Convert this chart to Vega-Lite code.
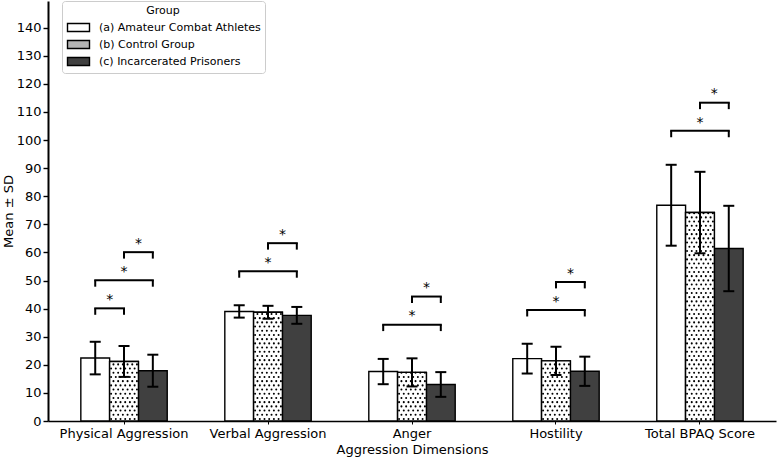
{
  "$schema": "https://vega.github.io/schema/vega-lite/v6.json",
  "width": 728,
  "height": 420,
  "autosize": {"type": "none"},
  "padding": {"left": 48, "top": 1, "right": 1, "bottom": 36},
  "background": "white",
  "config": {
    "font": "DejaVu Sans",
    "view": {"stroke": null},
    "axis": {
      "labelFont": "DejaVu Sans", "titleFont": "DejaVu Sans",
      "labelColor": "black", "titleColor": "black",
      "labelFontSize": 13, "titleFontSize": 13, "titleFontWeight": "normal",
      "domainColor": "black", "tickColor": "black", "grid": false
    },
    "axisY": {"domainWidth": 2, "tickWidth": 1.4, "tickSize": 5, "labelPadding": 2, "tickCount": 15, "titleX": -40, "titleBaseline": "middle"},
    "axisX": {"domainWidth": 1.3, "tickSize": 3, "tickWidth": 1, "labelPadding": 3, "titlePadding": 3, "labelAngle": 0}
  },
  "datasets": {
    "bars": [
      {"dim": "Physical Aggression", "group": "(a) Amateur Combat Athletes", "mean": 22.4, "sd": 5.8},
      {"dim": "Physical Aggression", "group": "(b) Control Group", "mean": 21.2, "sd": 5.5},
      {"dim": "Physical Aggression", "group": "(c) Incarcerated Prisoners", "mean": 17.9, "sd": 5.7},
      {"dim": "Verbal Aggression", "group": "(a) Amateur Combat Athletes", "mean": 39.0, "sd": 2.2},
      {"dim": "Verbal Aggression", "group": "(b) Control Group", "mean": 38.7, "sd": 2.3},
      {"dim": "Verbal Aggression", "group": "(c) Incarcerated Prisoners", "mean": 37.6, "sd": 3.0},
      {"dim": "Anger", "group": "(a) Amateur Combat Athletes", "mean": 17.6, "sd": 4.5},
      {"dim": "Anger", "group": "(b) Control Group", "mean": 17.3, "sd": 5.0},
      {"dim": "Anger", "group": "(c) Incarcerated Prisoners", "mean": 13.0, "sd": 4.4},
      {"dim": "Hostility", "group": "(a) Amateur Combat Athletes", "mean": 22.2, "sd": 5.3},
      {"dim": "Hostility", "group": "(b) Control Group", "mean": 21.4, "sd": 5.0},
      {"dim": "Hostility", "group": "(c) Incarcerated Prisoners", "mean": 17.7, "sd": 5.2},
      {"dim": "Total BPAQ Score", "group": "(a) Amateur Combat Athletes", "mean": 76.8, "sd": 14.4},
      {"dim": "Total BPAQ Score", "group": "(b) Control Group", "mean": 74.2, "sd": 14.5},
      {"dim": "Total BPAQ Score", "group": "(c) Incarcerated Prisoners", "mean": 61.4, "sd": 15.2}
    ],
    "brackets": [
      {"dim": "Physical Aggression", "pair": "ab", "y": 40.1},
      {"dim": "Physical Aggression", "pair": "ac", "y": 50.1},
      {"dim": "Physical Aggression", "pair": "bc", "y": 60.1},
      {"dim": "Verbal Aggression", "pair": "ac", "y": 53.3},
      {"dim": "Verbal Aggression", "pair": "bc", "y": 63.3},
      {"dim": "Anger", "pair": "ac", "y": 34.3},
      {"dim": "Anger", "pair": "bc", "y": 44.3},
      {"dim": "Hostility", "pair": "ac", "y": 39.5},
      {"dim": "Hostility", "pair": "bc", "y": 49.5},
      {"dim": "Total BPAQ Score", "pair": "ac", "y": 103.3},
      {"dim": "Total BPAQ Score", "pair": "bc", "y": 113.3}
    ]
  },
  "encoding": {
    "x": {
      "field": "dim", "type": "nominal",
      "sort": ["Physical Aggression", "Verbal Aggression", "Anger", "Hostility", "Total BPAQ Score"],
      "scale": {"paddingInner": 0.4, "paddingOuter": 0.228},
      "title": "Aggression Dimensions"
    }
  },
  "layer": [
    {
      "data": {"name": "bars"},
      "mark": {"type": "bar", "stroke": "black", "strokeWidth": 1.4, "opacity": 1},
      "encoding": {
        "xOffset": {"field": "group", "type": "nominal", "scale": {"domain": ["(a) Amateur Combat Athletes", "(b) Control Group", "(c) Incarcerated Prisoners"], "paddingInner": 0, "paddingOuter": 0}},
        "y": {"field": "mean", "type": "quantitative", "scale": {"domain": [0, 149.5], "nice": false}, "title": "Mean ± SD"},
        "fill": {
          "field": "group", "type": "nominal",
          "scale": {"domain": ["(a) Amateur Combat Athletes", "(b) Control Group", "(c) Incarcerated Prisoners"], "range": ["white", "#b4b4b4", "#404040"]},
          "legend": {
            "title": "Group", "orient": "none", "legendX": 14, "legendY": 0,
            "titleAnchor": "middle", "titleFontWeight": "normal", "titleFontSize": 11, "titleFont": "DejaVu Sans", "titleColor": "black", "titlePadding": 5,
            "labelFont": "DejaVu Sans", "labelFontSize": 11, "labelColor": "black", "labelOffset": 14, "labelLimit": 0,
            "symbolType": "M-2,-0.72H2V0.72H-2Z", "symbolSize": 121, "symbolStrokeColor": "black", "symbolStrokeWidth": 1.4, "symbolOffset": 6, "symbolOpacity": 1,
            "rowPadding": 2, "padding": 4, "strokeColor": "#cccccc", "fillColor": "white", "cornerRadius": 3
          }
        }
      }
    },
    {
      "data": {"name": "bars"},
      "transform": [{"filter": "datum.group === '(b) Control Group'"}],
      "mark": {"type": "bar", "fill": "white", "stroke": "black", "strokeWidth": 1.4, "opacity": 1},
      "encoding": {
        "xOffset": {"field": "group", "type": "nominal"},
        "y": {"field": "mean", "type": "quantitative", "title": "Mean ± SD"}
      }
    },
    {
      "data": {"name": "bars"},
      "transform": [{"filter": "datum.group === '(b) Control Group'"}, {"calculate": "0", "as": "base"}],
      "encoding": {"y": {"field": "base", "type": "quantitative", "title": "Mean ± SD"}, "y2": {"field": "mean"}},
      "layer": [
        {"mark": {"type": "rule", "color": "black", "strokeWidth": 2, "strokeCap": "round", "strokeDash": [0.1, 8.3], "strokeDashOffset": 6.4, "xOffset": -12.925}},
        {"mark": {"type": "rule", "color": "black", "strokeWidth": 2, "strokeCap": "round", "strokeDash": [0.1, 8.3], "strokeDashOffset": 2.2, "xOffset": -10.575}},
        {"mark": {"type": "rule", "color": "black", "strokeWidth": 2, "strokeCap": "round", "strokeDash": [0.1, 8.3], "strokeDashOffset": 6.4, "xOffset": -8.225}},
        {"mark": {"type": "rule", "color": "black", "strokeWidth": 2, "strokeCap": "round", "strokeDash": [0.1, 8.3], "strokeDashOffset": 2.2, "xOffset": -5.875}},
        {"mark": {"type": "rule", "color": "black", "strokeWidth": 2, "strokeCap": "round", "strokeDash": [0.1, 8.3], "strokeDashOffset": 6.4, "xOffset": -3.525}},
        {"mark": {"type": "rule", "color": "black", "strokeWidth": 2, "strokeCap": "round", "strokeDash": [0.1, 8.3], "strokeDashOffset": 2.2, "xOffset": -1.175}},
        {"mark": {"type": "rule", "color": "black", "strokeWidth": 2, "strokeCap": "round", "strokeDash": [0.1, 8.3], "strokeDashOffset": 6.4, "xOffset": 1.175}},
        {"mark": {"type": "rule", "color": "black", "strokeWidth": 2, "strokeCap": "round", "strokeDash": [0.1, 8.3], "strokeDashOffset": 2.2, "xOffset": 3.525}},
        {"mark": {"type": "rule", "color": "black", "strokeWidth": 2, "strokeCap": "round", "strokeDash": [0.1, 8.3], "strokeDashOffset": 6.4, "xOffset": 5.875}},
        {"mark": {"type": "rule", "color": "black", "strokeWidth": 2, "strokeCap": "round", "strokeDash": [0.1, 8.3], "strokeDashOffset": 2.2, "xOffset": 8.225}},
        {"mark": {"type": "rule", "color": "black", "strokeWidth": 2, "strokeCap": "round", "strokeDash": [0.1, 8.3], "strokeDashOffset": 6.4, "xOffset": 10.575}},
        {"mark": {"type": "rule", "color": "black", "strokeWidth": 2, "strokeCap": "round", "strokeDash": [0.1, 8.3], "strokeDashOffset": 2.2, "xOffset": 12.925}}
      ]
    },
    {
      "data": {"name": "bars"},
      "transform": [{"filter": "datum.group === '(a) Amateur Combat Athletes'"}, {"calculate": "datum.mean - datum.sd", "as": "lo"}, {"calculate": "datum.mean + datum.sd", "as": "hi"}],
      "layer": [
        {"mark": {"type": "rule", "color": "black", "strokeWidth": 2, "xOffset": -28.8}, "encoding": {"y": {"field": "lo", "type": "quantitative", "title": "Mean ± SD"}, "y2": {"field": "hi"}}},
        {"mark": {"type": "tick", "orient": "horizontal", "color": "black", "thickness": 2, "size": 11, "opacity": 1, "xOffset": -28.8}, "encoding": {"y": {"field": "lo", "type": "quantitative", "title": "Mean ± SD"}}},
        {"mark": {"type": "tick", "orient": "horizontal", "color": "black", "thickness": 2, "size": 11, "opacity": 1, "xOffset": -28.8}, "encoding": {"y": {"field": "hi", "type": "quantitative", "title": "Mean ± SD"}}}
      ]
    },
    {
      "data": {"name": "bars"},
      "transform": [{"filter": "datum.group === '(b) Control Group'"}, {"calculate": "datum.mean - datum.sd", "as": "lo"}, {"calculate": "datum.mean + datum.sd", "as": "hi"}],
      "layer": [
        {"mark": {"type": "rule", "color": "black", "strokeWidth": 2}, "encoding": {"y": {"field": "lo", "type": "quantitative", "title": "Mean ± SD"}, "y2": {"field": "hi"}}},
        {"mark": {"type": "tick", "orient": "horizontal", "color": "black", "thickness": 2, "size": 11, "opacity": 1}, "encoding": {"y": {"field": "lo", "type": "quantitative", "title": "Mean ± SD"}}},
        {"mark": {"type": "tick", "orient": "horizontal", "color": "black", "thickness": 2, "size": 11, "opacity": 1}, "encoding": {"y": {"field": "hi", "type": "quantitative", "title": "Mean ± SD"}}}
      ]
    },
    {
      "data": {"name": "bars"},
      "transform": [{"filter": "datum.group === '(c) Incarcerated Prisoners'"}, {"calculate": "datum.mean - datum.sd", "as": "lo"}, {"calculate": "datum.mean + datum.sd", "as": "hi"}],
      "layer": [
        {"mark": {"type": "rule", "color": "black", "strokeWidth": 2, "xOffset": 28.8}, "encoding": {"y": {"field": "lo", "type": "quantitative", "title": "Mean ± SD"}, "y2": {"field": "hi"}}},
        {"mark": {"type": "tick", "orient": "horizontal", "color": "black", "thickness": 2, "size": 11, "opacity": 1, "xOffset": 28.8}, "encoding": {"y": {"field": "lo", "type": "quantitative", "title": "Mean ± SD"}}},
        {"mark": {"type": "tick", "orient": "horizontal", "color": "black", "thickness": 2, "size": 11, "opacity": 1, "xOffset": 28.8}, "encoding": {"y": {"field": "hi", "type": "quantitative", "title": "Mean ± SD"}}}
      ]
    },
    {
      "data": {"name": "brackets"},
      "transform": [{"filter": "datum.pair === 'ab'"}],
      "encoding": {"y": {"field": "y", "type": "quantitative", "title": "Mean ± SD"}},
      "layer": [
        {"mark": {"type": "tick", "orient": "horizontal", "color": "black", "thickness": 2, "size": 30.8, "opacity": 1, "xOffset": -14.4}},
        {"mark": {"type": "tick", "orient": "vertical", "color": "black", "thickness": 2, "size": 6.5, "opacity": 1, "xOffset": -28.8, "yOffset": 3.2}},
        {"mark": {"type": "tick", "orient": "vertical", "color": "black", "thickness": 2, "size": 6.5, "opacity": 1, "xOffset": 0.001, "yOffset": 3.2}},
        {"mark": {"type": "text", "text": "*", "fontSize": 14, "baseline": "alphabetic", "dy": -4.2, "dx": -14.4, "fill": "black", "opacity": 1}}
      ]
    },
    {
      "data": {"name": "brackets"},
      "transform": [{"filter": "datum.pair === 'ac'"}],
      "encoding": {"y": {"field": "y", "type": "quantitative", "title": "Mean ± SD"}},
      "layer": [
        {"mark": {"type": "tick", "orient": "horizontal", "color": "black", "thickness": 2, "size": 59.6, "opacity": 1}},
        {"mark": {"type": "tick", "orient": "vertical", "color": "black", "thickness": 2, "size": 6.5, "opacity": 1, "xOffset": -28.8, "yOffset": 3.2}},
        {"mark": {"type": "tick", "orient": "vertical", "color": "black", "thickness": 2, "size": 6.5, "opacity": 1, "xOffset": 28.8, "yOffset": 3.2}},
        {"mark": {"type": "text", "text": "*", "fontSize": 14, "baseline": "alphabetic", "dy": -4.2, "dx": 0.001, "fill": "black", "opacity": 1}}
      ]
    },
    {
      "data": {"name": "brackets"},
      "transform": [{"filter": "datum.pair === 'bc'"}],
      "encoding": {"y": {"field": "y", "type": "quantitative", "title": "Mean ± SD"}},
      "layer": [
        {"mark": {"type": "tick", "orient": "horizontal", "color": "black", "thickness": 2, "size": 30.8, "opacity": 1, "xOffset": 14.4}},
        {"mark": {"type": "tick", "orient": "vertical", "color": "black", "thickness": 2, "size": 6.5, "opacity": 1, "xOffset": 0.001, "yOffset": 3.2}},
        {"mark": {"type": "tick", "orient": "vertical", "color": "black", "thickness": 2, "size": 6.5, "opacity": 1, "xOffset": 28.8, "yOffset": 3.2}},
        {"mark": {"type": "text", "text": "*", "fontSize": 14, "baseline": "alphabetic", "dy": -4.2, "dx": 14.4, "fill": "black", "opacity": 1}}
      ]
    }
  ]
}
